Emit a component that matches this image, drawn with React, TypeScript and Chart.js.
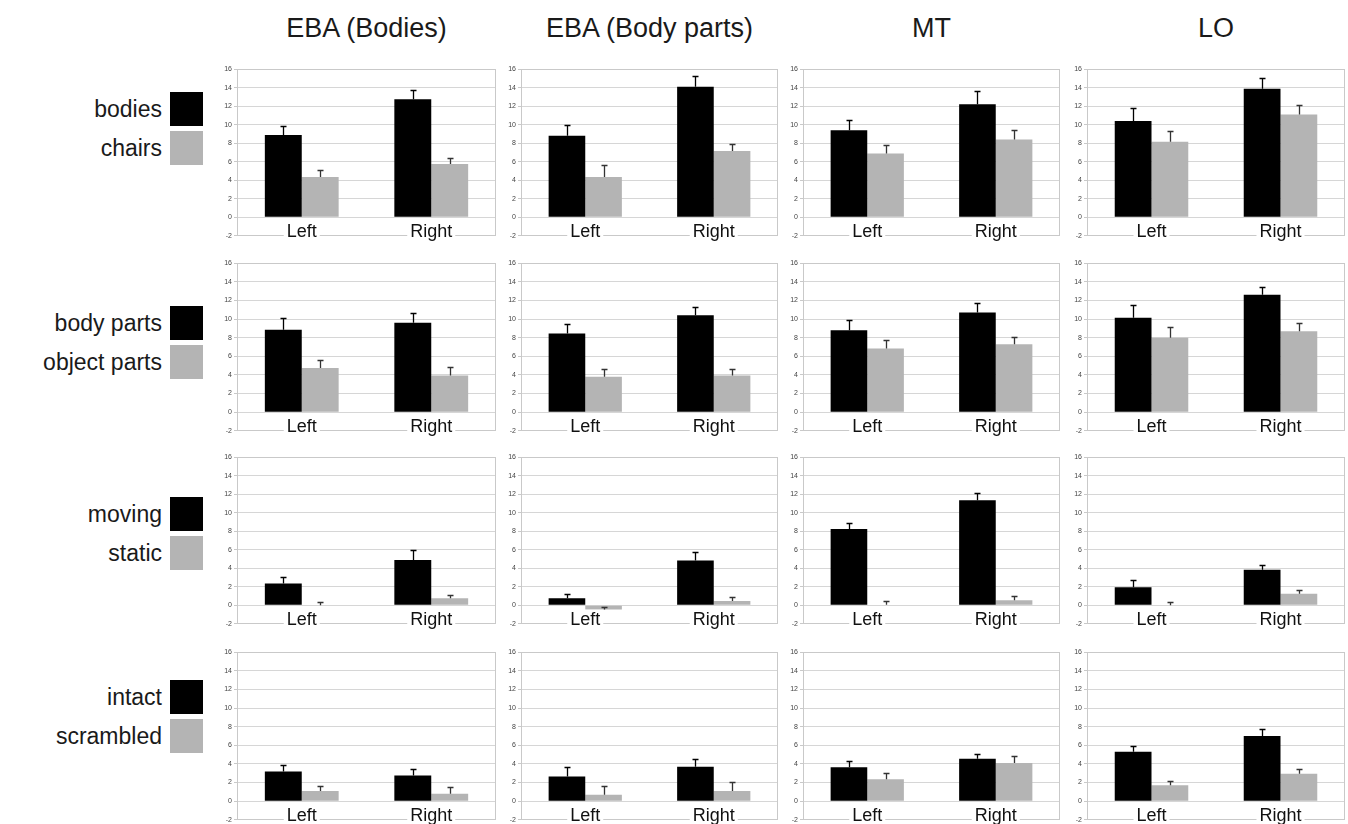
import React, { useEffect, useRef } from "react";
import { Chart, registerables } from "chart.js";

Chart.register(...registerables);

// ---------- data ----------
const columnTitles = ["EBA (Bodies)", "EBA (Body parts)", "MT", "LO"];
const hemispheres = ["Left", "Right"];
const conditionsA = ["bodies", "body parts", "moving", "intact"];
const conditionsB = ["chairs", "object parts", "static", "scrambled"];
const yMin = -2;
const yMax = 16;
const yStep = 2;

// each entry: one column (region), [Left, Right]
const bodiesMean = [[8.9, 12.75], [8.8, 14.1], [9.4, 12.2], [10.4, 13.9]];
const bodiesErr = [[1.0, 0.95], [1.15, 1.2], [1.1, 1.4], [1.45, 1.1]];
const chairsMean = [[4.35, 5.75], [4.35, 7.15], [6.9, 8.4], [8.15, 11.1]];
const chairsErr = [[0.8, 0.7], [1.35, 0.8], [0.9, 1.0], [1.15, 1.0]];

const bodyPartsMean = [[8.85, 9.6], [8.45, 10.4], [8.8, 10.7], [10.15, 12.6]];
const bodyPartsErr = [[1.25, 1.1], [1.0, 0.85], [1.1, 1.05], [1.35, 0.8]];
const objectPartsMean = [[4.75, 3.95], [3.8, 3.95], [6.85, 7.3], [8.0, 8.7]];
const objectPartsErr = [[0.85, 0.85], [0.8, 0.65], [0.9, 0.75], [1.15, 0.9]];

const movingMean = [[2.35, 4.9], [0.75, 4.85], [8.25, 11.35], [1.95, 3.85]];
const movingErr = [[0.7, 1.1], [0.5, 0.95], [0.65, 0.8], [0.75, 0.55]];
const staticMean = [[0.0, 0.75], [-0.45, 0.45], [0.05, 0.55], [0.0, 1.25]];
const staticErr = [[0.35, 0.35], [0.25, 0.4], [0.45, 0.5], [0.4, 0.45]];

const intactMean = [[3.2, 2.75], [2.65, 3.7], [3.65, 4.55], [5.3, 7.0]];
const intactErr = [[0.7, 0.75], [1.0, 0.8], [0.65, 0.55], [0.65, 0.7]];
const scrambledMean = [[1.1, 0.8], [0.7, 1.1], [2.35, 4.1], [1.7, 2.95]];
const scrambledErr = [[0.5, 0.75], [0.95, 1.0], [0.65, 0.8], [0.5, 0.55]];

const rowsA = [bodiesMean, bodyPartsMean, movingMean, intactMean];
const rowsAErr = [bodiesErr, bodyPartsErr, movingErr, intactErr];
const rowsB = [chairsMean, objectPartsMean, staticMean, scrambledMean];
const rowsBErr = [chairsErr, objectPartsErr, staticErr, scrambledErr];

// ---------- layout ----------
const colLeft = [237, 521, 803, 1087];
const colRight = [496, 778, 1060, 1345];
const rowTop = [69, 263, 457, 652];
const rowBottom = [236, 431, 624, 820];
const legendTop = [92, 306, 497, 680];

const AXIS_W = 24;
const PAD = 6;
const PAD_R = 4;
const FONT = '"Liberation Sans", Arial, Helvetica, sans-serif';
const DARK = "#000000";
const LIGHT = "#b4b4b4";

const decorPlugin = {
  id: "panelDecor",
  afterDatasetsDraw(chart: any, _args: any, opts: any) {
    const { ctx, chartArea } = chart;
    const ys = chart.scales.y;
    const xs = chart.scales.x;
    ctx.save();
    // error bars (plus direction only)
    chart.data.datasets.forEach((ds: any, di: number) => {
      const meta = chart.getDatasetMeta(di);
      meta.data.forEach((bar: any, i: number) => {
        const v = ds.data[i];
        const e = opts.errors[di][i];
        const x = Math.round(bar.x) + 0.5;
        const y0 = ys.getPixelForValue(v);
        const y1 = Math.round(ys.getPixelForValue(v + e)) + 0.5;
        ctx.strokeStyle = di === 0 ? "#000" : "#333";
        ctx.lineWidth = 1.3;
        ctx.beginPath();
        ctx.moveTo(x, y0);
        ctx.lineTo(x, y1);
        ctx.moveTo(x - 3, y1);
        ctx.lineTo(x + 3, y1);
        ctx.stroke();
      });
    });
    // plot box
    ctx.strokeStyle = "#c9c9c9";
    ctx.lineWidth = 1;
    ctx.strokeRect(
      Math.round(chartArea.left) + 0.5,
      Math.round(chartArea.top) + 0.5,
      Math.round(chartArea.width) - 1,
      Math.round(chartArea.height) - 1
    );
    // category labels sitting on the bottom line, with white backdrop
    ctx.font = `18px ${FONT}`;
    ctx.textAlign = "center";
    ctx.textBaseline = "alphabetic";
    const base = ys.getPixelForValue(yMin) + 1;
    chart.data.labels.forEach((lab: string, i: number) => {
      const cx = xs.getPixelForValue(i);
      const w = ctx.measureText(lab).width;
      ctx.fillStyle = "#ffffff";
      ctx.fillRect(cx - w / 2 - 3, base - 15, w + 6, 18);
      ctx.fillStyle = "#111111";
      ctx.fillText(lab, cx, base);
    });
    ctx.restore();
  },
};

function Panel(props: {
  a: number[];
  b: number[];
  aErr: number[];
  bErr: number[];
  left: number;
  top: number;
  plotW: number;
  plotH: number;
}) {
  const ref = useRef<HTMLCanvasElement>(null);
  const { a, b, aErr, bErr, left, top, plotW, plotH } = props;
  const w = plotW + AXIS_W + PAD_R;
  const h = plotH + PAD * 2;
  useEffect(() => {
    if (!ref.current) return;
    const chart = new Chart(ref.current, {
      type: "bar",
      data: {
        labels: hemispheres,
        datasets: [
          { data: a, backgroundColor: DARK, borderWidth: 0, barPercentage: 1, categoryPercentage: 0.57 },
          { data: b, backgroundColor: LIGHT, borderWidth: 0, barPercentage: 1, categoryPercentage: 0.57 },
        ],
      },
      options: {
        animation: false,
        responsive: false,
        devicePixelRatio: 1,
        events: [],
        layout: { padding: { left: 0, right: PAD_R, top: PAD, bottom: PAD } },
        plugins: {
          legend: { display: false },
          tooltip: { enabled: false },
          panelDecor: { errors: [aErr, bErr] },
        } as any,
        scales: {
          x: { display: false },
          y: {
            min: yMin,
            max: yMax,
            afterFit: (s: any) => {
              s.width = AXIS_W;
            },
            ticks: {
              stepSize: yStep,
              font: { size: 7, family: FONT },
              color: "#444",
              padding: 2,
            },
            grid: { color: "#d6d6d6", lineWidth: 1, tickLength: 3, tickColor: "#c9c9c9" },
            border: { display: true, color: "#c9c9c9" },
          },
        },
      },
      plugins: [decorPlugin],
    });
    return () => chart.destroy();
  }, []);
  return (
    <canvas
      ref={ref}
      width={w}
      height={h}
      style={{ position: "absolute", left: left - AXIS_W, top: top - PAD, width: w, height: h }}
    />
  );
}

export default function App() {
  const panels: any[] = [];
  for (let r = 0; r < 4; r++) {
    for (let c = 0; c < 4; c++) {
      panels.push(
        <Panel
          key={`${r}-${c}`}
          a={rowsA[r][c]}
          b={rowsB[r][c]}
          aErr={rowsAErr[r][c]}
          bErr={rowsBErr[r][c]}
          left={colLeft[c]}
          top={rowTop[r]}
          plotW={colRight[c] - colLeft[c]}
          plotH={rowBottom[r] - rowTop[r]}
        />
      );
    }
  }
  const labelStyle = (top: number): React.CSSProperties => ({
    position: "absolute",
    left: 0,
    width: 162,
    top,
    height: 35,
    lineHeight: "35px",
    fontSize: 23,
    textAlign: "right",
    whiteSpace: "nowrap",
  });
  return (
    <div
      style={{
        position: "absolute",
        left: 0,
        top: 0,
        width: 1348,
        height: 824,
        background: "#fff",
        overflow: "hidden",
        fontFamily: FONT,
        color: "#1a1a1a",
      }}
    >
      {columnTitles.map((t, c) => (
        <div
          key={t}
          style={{
            position: "absolute",
            left: (colLeft[c] + colRight[c]) / 2 - 200,
            width: 400,
            top: 10,
            textAlign: "center",
            fontSize: 27,
            lineHeight: "36px",
          }}
        >
          {t}
        </div>
      ))}
      {legendTop.map((lt, r) => (
        <React.Fragment key={r}>
          <div style={labelStyle(lt)}>{conditionsA[r]}</div>
          <div style={labelStyle(lt + 39)}>{conditionsB[r]}</div>
          <div style={{ position: "absolute", left: 170, top: lt, width: 33, height: 34, background: DARK }} />
          <div style={{ position: "absolute", left: 170, top: lt + 39, width: 33, height: 34, background: LIGHT }} />
        </React.Fragment>
      ))}
      {panels}
    </div>
  );
}
